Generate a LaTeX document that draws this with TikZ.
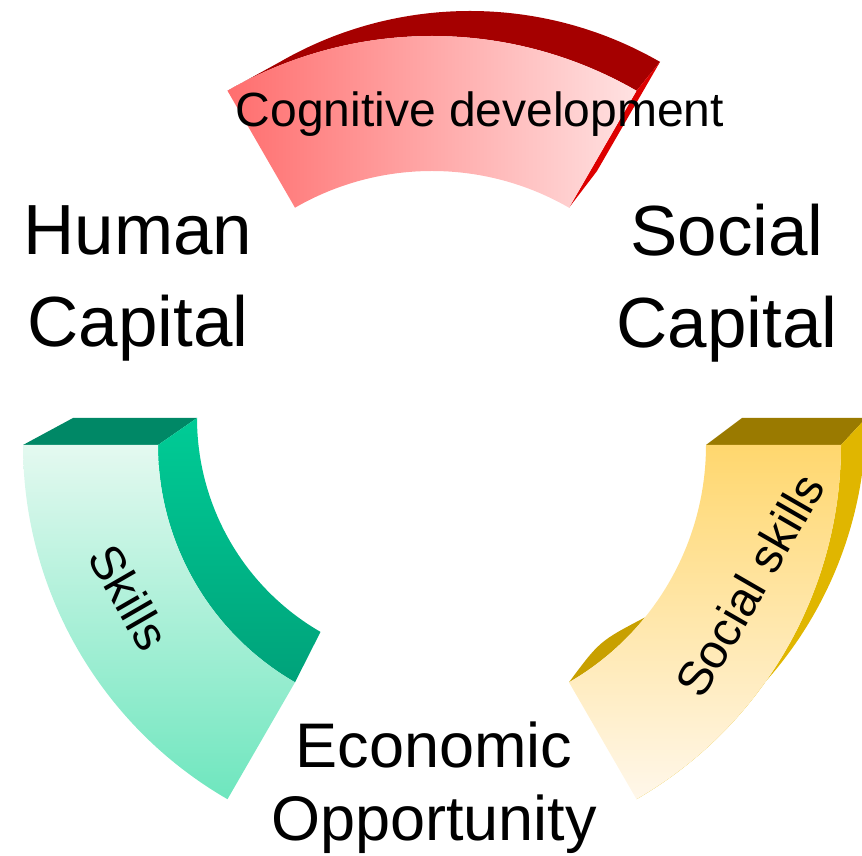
\documentclass[tikz,border=0pt]{standalone}
\usepackage{fontspec}
\setmainfont{Liberation Sans}

\definecolor{redlight}{HTML}{FFE2E2}
\definecolor{reddeep}{HTML}{FF6E6E}
\definecolor{redtop}{HTML}{A50000}
\definecolor{redside}{HTML}{DD0000}
\definecolor{greenlight}{HTML}{E4F9F0}
\definecolor{greendeep}{HTML}{6EE6BE}
\definecolor{greentop}{HTML}{008866}
\definecolor{greeninA}{HTML}{00CC96}
\definecolor{greeninB}{HTML}{00A27A}
\definecolor{yellowdeep}{HTML}{FFD76E}
\definecolor{yellowlight}{HTML}{FFF7EA}
\definecolor{yellowtop}{HTML}{9A7A00}
\definecolor{yellowside}{HTML}{E0B600}
\definecolor{yellowin}{HTML}{C8A000}

\begin{document}
\begin{tikzpicture}[
  x=1pt, y=1pt,
  capital/.style={align=center, inner sep=0pt, font=\fontsize{71}{92}\selectfont},
  seglabel/.style={inner sep=0pt, font=\fontsize{48}{56}\selectfont}
]
\useasboundingbox (0,0) rectangle (862,856);

\begin{scope}[shift={(432,411)}]
% Top segment (red), back face pushed up and right
\fill[redtop] (120:409) arc[start angle=120, end angle=60, radius=409]
  -- ([shift={(38,54)}]60:380) arc[start angle=60, end angle=120, radius=380] -- cycle;
\fill[redside] (60:409) -- ([shift={(38,54)}]60:380) -- ([shift={(38,54)}]60:254) -- (60:274) -- cycle;
\shade[left color=reddeep, right color=redlight]
  (60:274) -- (60:409) arc[start angle=60, end angle=120, radius=409]
  -- (120:274) arc[start angle=120, end angle=60, radius=274] -- cycle;

% Left segment (green)
\fill[greentop] (180:409) -- (180:274) -- ([shift={(12,27)}]180:247) -- ([shift={(12,27)}]180:371) -- cycle;
\shade[top color=greeninA, bottom color=greeninB]
  (180:274) arc[start angle=180, end angle=240, radius=274]
  -- ([shift={(12,27)}]240:247) arc[start angle=240, end angle=180, radius=247] -- cycle;
\shade[top color=greenlight, bottom color=greendeep]
  (180:274) -- (180:409) arc[start angle=180, end angle=240, radius=409]
  -- (240:274) arc[start angle=240, end angle=180, radius=274] -- cycle;

% Right segment (yellow)
\fill[yellowtop] (0:274) -- (0:409) -- ([shift={(38,27)}]0:396) -- ([shift={(38,27)}]0:272) -- cycle;
\fill[yellowside] (0:409) arc[start angle=0, end angle=-60, radius=409]
  -- ([shift={(38,27)}]-60:396) arc[start angle=-60, end angle=0, radius=396] -- cycle;
% thin inner edge showing at the lower end
\fill[yellowin] (-60:274) arc[start angle=-60, end angle=-39, radius=274]
  .. controls (-49.5:258) .. (-60:274) -- cycle;
\shade[top color=yellowdeep, bottom color=yellowlight]
  (-60:274) -- (-60:409) arc[start angle=-60, end angle=0, radius=409]
  -- (0:274) arc[start angle=0, end angle=-60, radius=274] -- cycle;
\end{scope}

% Labels
\node[seglabel, anchor=base] (cogdev) at (480,729) {Cognitive development};
\node[seglabel, rotate=-60] (skills) at (129,259) {Skills};
\node[seglabel, rotate=60] (socskills) at (750,271) {Social skills};

\node[capital] (human) at (138,573) {Human\\Capital};
\node[capital] (social) at (727,573) {Social\\Capital};
\node[capital, font=\fontsize{63}{73}\selectfont] (econ) at (434,68) {Economic\\Opportunity};

\end{tikzpicture}
\end{document}
